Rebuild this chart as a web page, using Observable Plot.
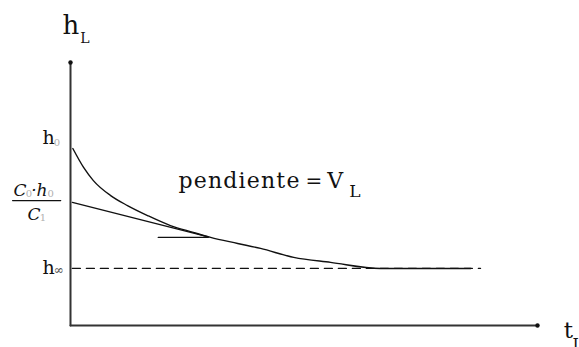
<!DOCTYPE html>
<html>
<head>
<meta charset="utf-8">
<script src="https://cdn.jsdelivr.net/npm/d3@7"></script>
<script src="https://cdn.jsdelivr.net/npm/@observablehq/plot@0.6"></script>
<style>
  html, body { margin: 0; padding: 0; background: #fff; }
  #chart svg { display: block; }
</style>
</head>
<body>
<div id="chart"></div>
<script>
// ---- data (schematic units: t from 0..10, h from 0..10) ----
const curveT = [0.05, 0.28, 0.49, 0.86, 1.22, 1.65, 2.14, 2.63, 3.00, 3.58, 4.07, 4.78, 5.57, 6.64, 8.57];
const curveH = [6.73, 6.01, 5.51, 4.94, 4.56, 4.18, 3.80, 3.54, 3.35, 3.12, 2.93, 2.59, 2.40, 2.17, 2.17];
const hInf = 2.17;
const dashT = [0.04, 8.78];
const tangentT = [0.04, 2.93];
const tangentH = [4.68, 3.38];
const slopeT = [1.88, 2.95];
const slopeH = [3.35, 3.35];
const axisMax = 10;

// labels: text, t, h (baseline), size
const mainLabels = ["h", "pendiente", "=", "V", "t", "h", "h"];
const mainT = [-0.17, 2.31, 5.03, 5.50, 10.56, -0.60, -0.60];
const mainH = [11.10, 5.21, 5.21, 5.21, -0.49, 6.92, 1.94];
const mainSize = [26, 22, 20, 22, 23, 19, 19];
const mainSpacing = [0, 1.2, 0, 0, 0, 0, 0];

const subLabels = ["L", "L", "L", "0", "∞"];
const subT = [0.21, 5.97, 10.75, -0.36, -0.36];
const subH = [10.76, 4.87, -0.95, 6.81, 1.94];
const subSize = [14, 17, 16, 10, 12];
const subColor = ["#111", "#111", "#111", "#b0b0b0", "#444"];

// fraction C0·h0 / C1
const fracText = ["C", "·", "h", "C"];
const fracT = [-1.22, -0.84, -0.73, -0.92];
const fracH = [4.94, 4.94, 4.94, 4.03];
const fracSubText = ["0", "0", "1"];
const fracSubT = [-0.96, -0.49, -0.66];
const fracSubH = [4.90, 4.90, 3.99];
const fracBarT = [-1.24, -0.21];
const fracBarH = 4.75;

const curve = curveT.map((t, i) => ({t, h: curveH[i]}));
const tangent = tangentT.map((t, i) => ({t, h: tangentH[i]}));
const slope = slopeT.map((t, i) => ({t, h: slopeH[i]}));
const main = mainLabels.map((s, i) => ({s, t: mainT[i], h: mainH[i], size: mainSize[i], ls: mainSpacing[i]}));
const subs = subLabels.map((s, i) => ({s, t: subT[i], h: subH[i], size: subSize[i], c: subColor[i]}));
const frac = fracText.map((s, i) => ({s, t: fracT[i], h: fracH[i]}));
const fracSub = fracSubText.map((s, i) => ({s, t: fracSubT[i], h: fracSubH[i]}));

const font = "DejaVu Serif";

const marks = [
  // axes
  Plot.line([{t: 0, h: 0}, {t: 0, h: axisMax}], {x: "t", y: "h", stroke: "#333", strokeWidth: 2}),
  Plot.line([{t: 0, h: 0}, {t: axisMax, h: 0}], {x: "t", y: "h", stroke: "#333", strokeWidth: 2}),
  Plot.dot([{t: 0, h: axisMax}, {t: axisMax, h: 0}], {x: "t", y: "h", r: 2.2, fill: "#111"}),
  // dashed asymptote
  Plot.line(dashT.map(t => ({t, h: hInf})), {x: "t", y: "h", stroke: "#111", strokeWidth: 1.3, strokeDasharray: "8,6"}),
  // curve
  Plot.line(curve, {x: "t", y: "h", curve: "monotone-x", stroke: "#111", strokeWidth: 1.4}),
  // tangent and slope segment
  Plot.line(tangent, {x: "t", y: "h", stroke: "#111", strokeWidth: 1.4}),
  Plot.line(slope, {x: "t", y: "h", stroke: "#111", strokeWidth: 1.4}),
  // fraction bar
  Plot.line(fracBarT.map(t => ({t, h: fracBarH})), {x: "t", y: "h", stroke: "#111", strokeWidth: 1.3}),
  // labels
  ...main.map(d => Plot.text([d], {x: "t", y: "h", text: "s", fontSize: d.size, fontFamily: font, textAnchor: "start", lineAnchor: "bottom", fill: "#111"})),
  ...subs.map(d => Plot.text([d], {x: "t", y: "h", text: "s", fontSize: d.size, fontFamily: font, textAnchor: "start", lineAnchor: "bottom", fill: d.c})),
  Plot.text(frac, {x: "t", y: "h", text: "s", fontSize: 17, fontFamily: font, fontStyle: "italic", textAnchor: "start", lineAnchor: "bottom", fill: "#111"}),
  Plot.text(fracSub, {x: "t", y: "h", text: "s", fontSize: 10, fontFamily: font, textAnchor: "start", lineAnchor: "bottom", fill: "#b0b0b0"})
];

const chart = Plot.plot({
  width: 579,
  height: 347,
  marginLeft: 70,
  marginRight: 42,
  marginTop: 62,
  marginBottom: 22,
  x: {domain: [0, axisMax], axis: null},
  y: {domain: [0, axisMax], axis: null},
  style: {background: "#fff", overflow: "visible"},
  marks
});
// force the serif face on every label
d3.select(chart).selectAll("text").style("font-family", "'DejaVu Serif'");
// letter spacing for the wide label
main.forEach(d => {
  if (d.ls) d3.select(chart).selectAll("text").filter(function() { return this.textContent === d.s; }).attr("letter-spacing", d.ls);
});
document.getElementById("chart").appendChild(chart);
</script>
</body>
</html>
